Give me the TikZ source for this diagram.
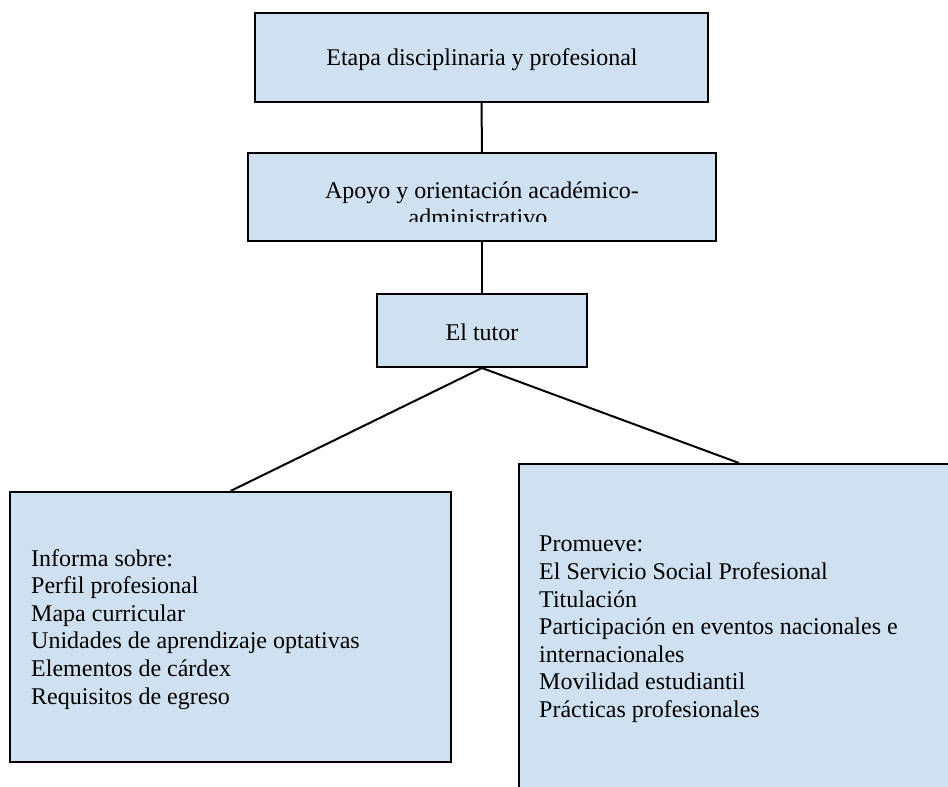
\documentclass[tikz,border=0pt]{standalone}
\usepackage{fontspec}
\setmainfont{Liberation Serif}
\definecolor{boxfill}{RGB}{207,224,241}
\begin{document}
\begin{tikzpicture}[x=1pt,y=-1pt,
  box/.style={draw=black,line width=2pt,fill=boxfill,rectangle,inner sep=0pt},
  link/.style={draw=black,line width=2pt},
  txt/.style={font=\fontsize{24}{27.6}\selectfont,inner sep=0pt},
  list/.style={txt,align=left,anchor=base west}]
\clip (0,0) rectangle (948,787);
\node[box,minimum width=453pt,minimum height=89pt] (b1) at (481.5,57.5) {};
\node[box,minimum width=468pt,minimum height=88pt] (b2) at (482,197) {};
\node[box,minimum width=210pt,minimum height=73pt] (b3) at (482,330.5) {};
\node[box,minimum width=441pt,minimum height=270pt] (b4) at (230.5,627) {};
\node[box,minimum width=441pt,minimum height=348pt] (b5) at (739,638) {};
\draw[link] (b1.south) -- (b2.north);
\draw[link] (b2.south) -- (b3.north);
\draw[link] (b3.south) -- (b4.north);
\draw[link] (b3.south) -- (b5.north);
\node[txt,anchor=base] (t1) at (482,65) {Etapa disciplinaria y profesional};
\begin{scope}
\clip (248,153) rectangle (716,221.7);
\node[txt,anchor=base] (t2a) at (482,198) {Apoyo y orientación académico-};
\node[txt,anchor=base] (t2b) at (478,225.7) {administrativo};
\end{scope}
\node[txt,anchor=base] (t3) at (482,340) {El tutor};
\node[list] (t4) at (31,704) {Informa sobre:\\Perfil profesional\\Mapa curricular\\Unidades de aprendizaje optativas\\Elementos de cárdex\\Requisitos de egreso};
\node[list] (t5) at (539,717.5) {Promueve:\\El Servicio Social Profesional\\Titulación\\Participación en eventos nacionales e\\internacionales\\Movilidad estudiantil\\Prácticas profesionales};
\end{tikzpicture}
\end{document}
